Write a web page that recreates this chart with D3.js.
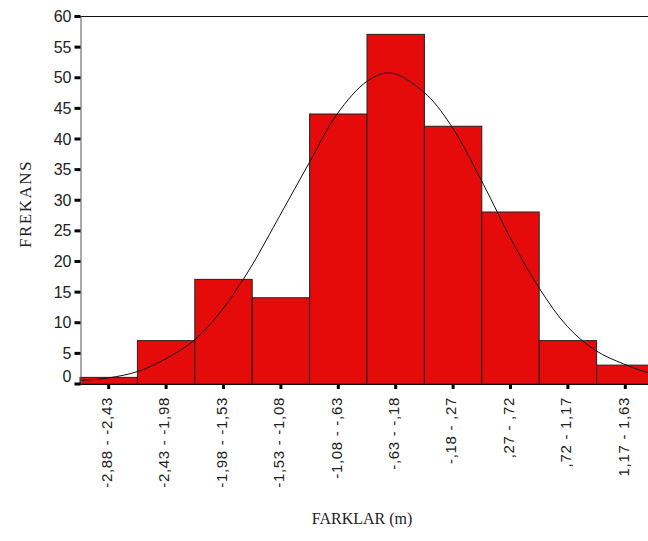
<!DOCTYPE html>
<html>
<head>
<meta charset="utf-8">
<script src="https://cdn.jsdelivr.net/npm/d3@7"></script>
<style>
  body { margin: 0; background: #fff; }
  svg { display: block; }
  .tick text { fill: #222; }
</style>
</head>
<body>
<svg id="hist" width="648" height="541"></svg>
<script>
// histogram of differences
let bins = ["-2,88 - -2,43", "-2,43 - -1,98", "-1,98 - -1,53", "-1,53 - -1,08", "-1,08 - -,63",
  "-,63 - -,18", "-,18 - ,27", ",27 - ,72", ",72 - 1,17", "1,17 - 1,63"]
let freq = [1, 7, 17, 14, 44, 57, 42, 28, 7, 3]
let yTicks = [0, 5, 10, 15, 20, 25, 30, 35, 40, 45, 50, 55, 60]

// normal curve (FARKLAR m, frequency)
let curveX = [-2.88, -2.66, -2.42, -2.2, -1.98, -1.76, -1.62, -1.52, -1.31, -1.08, -0.86,
  -0.62, -0.44, -0.18, 0.03, 0.29, 0.51, 0.73, 0.95, 1.17, 1.39, 1.58, 1.7]
let curveY = [0.5, 0.9, 2.0, 4.1, 7.1, 12.1, 16.3, 19.6, 27.4, 36.0, 44.0,
  49.4, 50.7, 47.6, 42.3, 32.5, 23.4, 15.5, 9.3, 5.4, 3.2, 1.8, 1.3]

let svg = d3.select("#hist")

let mLeft = 80, mRight = 654, mTop = 16, mBottom = 384

let x = d3.scaleBand()
  .domain(bins)
  .range([mLeft, mRight])
  .padding(0)

let xm = d3.scaleLinear()
  .domain([-2.88, 1.63])
  .range([mLeft, mRight])

let y = d3.scaleLinear()
  .domain([0, 60])
  .range([mBottom - 0.5, mTop])

// bars
svg.append("g")
  .selectAll("rect")
  .data(freq)
  .enter()
  .append("rect")
  .attr("x", (d, i) => x(bins[i]))
  .attr("y", d => y(d))
  .attr("width", x.bandwidth())
  .attr("height", d => mBottom - y(d))
  .attr("fill", "#e60b0b")
  .attr("stroke", "#222")
  .attr("stroke-width", 1)

// normal curve
let line = d3.line()
  .x((d, i) => xm(curveX[i]))
  .y(d => y(d))
  .curve(d3.curveCatmullRom)

svg.append("path")
  .datum(curveY)
  .attr("d", line)
  .attr("fill", "none")
  .attr("stroke", "#111")
  .attr("stroke-width", 1)

// frame lines
svg.append("line")
  .attr("x1", mLeft).attr("x2", 648)
  .attr("y1", mTop + 0.5).attr("y2", mTop + 0.5)
  .attr("stroke", "#111")
svg.append("line")
  .attr("x1", mLeft).attr("x2", 648)
  .attr("y1", mBottom + 0.5).attr("y2", mBottom + 0.5)
  .attr("stroke", "#111")

// y axis
let yAxis = svg.append("g")
  .attr("transform", "translate(" + (mLeft + 0.5) + ",0)")
  .call(d3.axisLeft(y).tickValues(yTicks).tickSize(6).tickPadding(3))
yAxis.select(".domain").attr("stroke", "#555")
yAxis.selectAll(".tick line").attr("stroke", "#000").attr("stroke-width", 3)
yAxis.selectAll(".tick text")
  .style("font-family", "'Liberation Sans', Arial, sans-serif")
  .style("font-size", "16px")
  .attr("dy", d => d === 0 ? "-0.15em" : "0.35em")

// x axis
let xAxis = svg.append("g")
  .attr("transform", "translate(0," + (mBottom + 1) + ")")
  .call(d3.axisBottom(x).tickSize(4).tickSizeOuter(0))
xAxis.select(".domain").remove()
xAxis.selectAll(".tick line").attr("stroke", "#000").attr("stroke-width", 3)
xAxis.selectAll(".tick text")
  .style("font-family", "'Liberation Sans', Arial, sans-serif")
  .style("font-size", "15px")
  .style("letter-spacing", "0.7px")
  .style("text-anchor", "end")
  .attr("transform", "rotate(-90)")
  .attr("x", -12)
  .attr("y", -2)
  .attr("dy", "0.35em")

// axis titles
svg.append("text")
  .attr("transform", "translate(31,204) rotate(-90)")
  .attr("text-anchor", "middle")
  .style("font-family", "'Liberation Serif', 'Times New Roman', serif")
  .style("font-size", "17px")
  .style("letter-spacing", "1.5px")
  .attr("fill", "#222")
  .text("FREKANS")

svg.append("text")
  .attr("x", 362)
  .attr("y", 524)
  .attr("text-anchor", "middle")
  .style("font-family", "'Liberation Serif', 'Times New Roman', serif")
  .style("font-size", "16px")
  .attr("fill", "#222")
  .text("FARKLAR (m)")
</script>
</body>
</html>
